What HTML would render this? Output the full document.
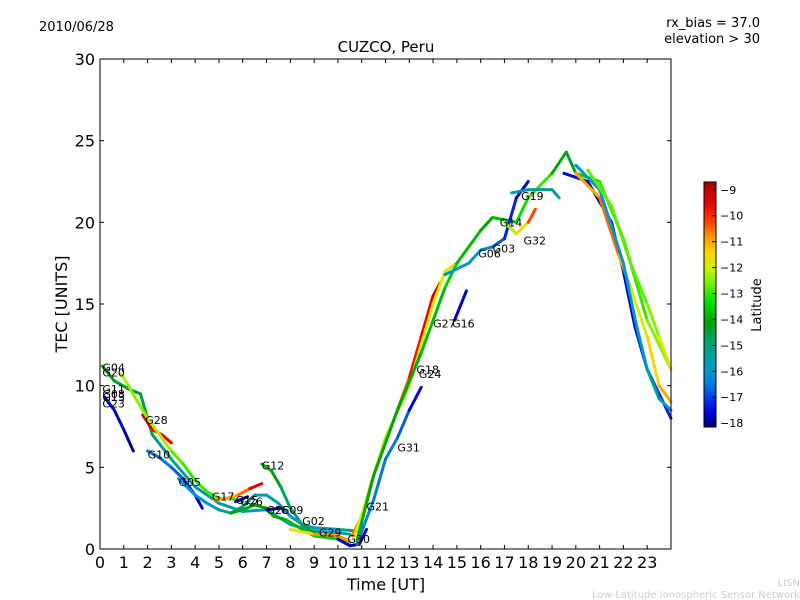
<!DOCTYPE html>
<html><head><meta charset="utf-8"><style>
body{margin:0;background:#fff}
svg{display:block;font-family:"DejaVu Sans","Liberation Sans",sans-serif}
</style></head><body>
<svg id="chart" width="800" height="600">
<rect width="800" height="600" fill="#fff"/>
<text x="39" y="31" font-size="13">2010/06/28</text>
<text x="760" y="27" font-size="13" text-anchor="end">rx_bias = 37.0</text>
<text x="760" y="43" font-size="13" text-anchor="end">elevation &gt; 30</text>
<text x="386" y="52" font-size="15" text-anchor="middle">CUZCO, Peru</text>
<text x="386" y="590" font-size="16" text-anchor="middle">Time [UT]</text>
<text transform="translate(67,304) rotate(-90)" font-size="16" text-anchor="middle">TEC [UNITS]</text>
<text x="800" y="586" font-size="10" fill="#ccc" text-anchor="end">LISN</text>
<text x="800" y="598" font-size="10" fill="#ccc" text-anchor="end">Low-Latitude Ionospheric Sensor Network</text>
<g id="marks"></g>
<g id="axes"></g>
<g id="cbar"></g>
</svg>
<script>
const xTicks=[0,1,2,3,4,5,6,7,8,9,10,11,12,13,14,15,16,17,18,19,20,21,22,23];
const yTicks=[0,5,10,15,20,25,30];
const cbTicks=[-9,-10,-11,-12,-13,-14,-15,-16,-17,-18];
const satNames=["G20","G23","G10","G28","G11","G05","G17","G08","G12","G15","G09","G29","G30","G21","G27","G31","G24","G16","G06","G32","G19","G26","G14","G03","G13"];
const satTimes=[
[0.1,0.6,1.2,1.7,2.2,3,4,5,6,7,8,9,10,10.5],
[0.2,0.6,1,1.4],
[2,2.5,3,3.5,4,4.3],
[1.8,2.2,2.6,3.0],
[0.9,1.2,1.5,2,2.5,3,3.5,4,4.5,5,5.5,6],
[3.3,4,4.5,5,5.5,6,6.5,7,7.5,8,8.5,9,10,10.8],
[4.8,5.3,5.8,6.3,6.8],
[5.5,6,6.5,7,7.3,7.8,8.5,9,10,10.5],
[6.8,7.2,7.6,8,8.5,9,9.5],
[5.7,6.2],
[7,7.6],
[8,9,10,10.5],
[10,10.5,10.9,11.2],
[10.6,11,11.5,12,12.5,13,13.5,14,14.3],
[10.7,11.2,12,13,13.5,14,14.5,15],
[10.8,11.5,12,12.5,13,13.5],
[10.8,11.5,12.5,13.5,14.5,15,16,16.5,17.5,18,19,19.6,20,21,22,23,24],
[14.9,15.4],
[14.5,15.5,16,16.5,17,17.5,18],
[17,17.5,18,18.3],
[17.3,18,19,19.3],
[19.5,20.5,21.5,22,22.5,23,23.5,24],
[20,21,21.8,22.3,23,23.5,24],
[20,21,22,22.5,23,23.5,24],
[20.5,21.5,22.3,23,23.5,24]];
const satTec=[
[11.2,10.3,9.8,9.5,7,5.5,3.8,2.8,2.3,2.4,1.5,1.1,1.0,0.9],
[9.3,8.5,7.3,6.0],
[6.0,5.6,5,4.3,3.3,2.5],
[8.2,7.3,7.0,6.5],
[10.7,10,9.2,8,7,6,5.2,4.2,3.5,3.1,3.1,2.9],
[4.3,3.3,2.8,2.4,2.2,2.6,3.3,3.3,2.8,2.0,1.5,1.3,1.2,1.1],
[3.0,3.1,3.3,3.7,4.0],
[2.2,2.4,2.7,2.5,2.0,1.8,1.2,0.8,0.6,0.4],
[5.2,4.8,3.8,2.5,1.5,1.0,0.8],
[2.9,3.2],
[2.4,2.5],
[1.2,0.9,0.8,0.5],
[0.6,0.2,0.3,1.2],
[0.8,2.0,4.5,6.5,8.5,10.5,13,15.5,16.3],
[0.8,3,6.8,10,12.5,15,17,17.5],
[0.3,3,5.5,6.8,8.5,9.9],
[0.5,4.5,8.5,12,16,17.5,19.5,20.3,20,21.5,23,24.3,23,22.5,19,14,11],
[14,15.8],
[16.8,17.5,18.3,18.5,19,21.5,22.5],
[20,19.3,20,20.8],
[21.8,22.0,22,21.5],
[23,22.5,20,17,13.5,11,9.5,8],
[23,21.5,18,16,13,10,9],
[23.5,22,17.5,14,11,9.2,8.5],
[23.2,21,17.5,15,13,11]];
const satLat=[
[-14,-14.5,-14.5,-14,-15,-15,-15.5,-15.5,-15.5,-16,-16,-16,-15.5,-15.5],
[-17.5,-17.5,-18,-18],
[-16.5,-16.5,-16.5,-17,-17.5,-18],
[-9,-9.5,-10,-9],
[-12,-12.5,-12.5,-12.5,-12,-12.5,-13,-13,-13,-13,-13,-13],
[-16,-16,-16,-16,-15,-15,-15.5,-15.5,-15.5,-16,-16,-16,-15.5,-15],
[-11,-11,-11,-10,-9],
[-14,-14,-14,-14,-14,-14,-13.5,-14,-13,-13],
[-13.5,-14,-14.5,-15,-15,-14,-14],
[-17.5,-17.5],
[-18,-18],
[-12,-11,-10.5,-11],
[-17.5,-18,-18,-17.5],
[-11,-10,-10,-11,-11,-10,-9.5,-9.5,-9],
[-12,-12,-12.5,-12,-11.5,-12,-12,-11.5],
[-16,-16.5,-16.5,-16.5,-17,-18],
[-14,-14,-14,-14,-13.5,-13.5,-14,-14,-13.5,-13,-13,-15,-14,-13,-13,-13,-12],
[-17.5,-18],
[-16,-16,-16,-16.5,-17,-17.5,-18],
[-12.5,-12,-11,-9.5],
[-16,-15.5,-15,-16],
[-17.5,-17.5,-18,-18,-17.5,-17,-17,-17.5],
[-11,-11,-10,-12,-12,-11,-11],
[-15.5,-16,-16,-16,-15.5,-15.5,-16],
[-12.5,-13,-12.5,-13,-12,-11.5]];
const labelNames=["G04","G20","G11","G08","G13","G23","G28","G10","G05","G17","G15","G26","G12","G26","G09","G02","G29","G30","G21","G31","G18","G24","G27","G16","G06","G03","G14","G19","G32"];
const labelT=[0.1,0.1,0.1,0.1,0.1,0.1,1.9,2.0,3.3,4.7,5.7,5.9,6.8,7.0,7.6,8.5,9.2,10.4,11.2,12.5,13.3,13.4,14.0,14.8,15.9,16.5,16.8,17.7,17.8];
const labelTec=[11.1,10.8,9.8,9.5,9.3,8.9,7.9,5.8,4.1,3.2,3.0,2.9,5.1,2.4,2.4,1.7,1.0,0.6,2.6,6.2,11.0,10.7,13.8,13.8,18.1,18.4,20.0,21.6,18.9];

const X0=100,X1=671,Y0=549,Y1=59;
const xS=t=>X0+t*(X1-X0)/24;
const yS=v=>Y0-v*(Y0-Y1)/30;
const CB_TOP=182,CB_BOT=427,LMAX=-8.7,LMIN=-18.15;
const cS=l=>CB_BOT-(l-LMIN)/(LMAX-LMIN)*(CB_BOT-CB_TOP);
const cmapLat=[-18.15,-17.6,-17.1,-16.5,-16.0,-15.4,-14.8,-14.1,-13.3,-12.6,-12.0,-11.4,-10.8,-10.2,-9.5,-8.7];
const cmapRGB=[[0,0,128],[0,0,220],[0,50,230],[0,120,220],[0,150,210],[0,160,160],[0,160,100],[0,160,0],[0,225,0],[120,240,0],[210,240,0],[250,210,0],[255,150,0],[255,60,0],[230,0,0],[170,0,0]];
function latColor(l){
 if(l<=cmapLat[0])return `rgb(${cmapRGB[0]})`;
 for(let k=1;k<cmapLat.length;k++){if(l<=cmapLat[k]){const f=(l-cmapLat[k-1])/(cmapLat[k]-cmapLat[k-1]);const a=cmapRGB[k-1],b=cmapRGB[k];return `rgb(${a.map((v,i)=>Math.round(v+(b[i]-v)*f)).join(',')})`;}}
 return `rgb(${cmapRGB[cmapRGB.length-1]})`;}
const NS="http://www.w3.org/2000/svg";
function mk(tag,attrs,parent){const e=document.createElementNS(NS,tag);for(const k in attrs)e.setAttribute(k,attrs[k]);parent.appendChild(e);return e;}
const marks=document.getElementById('marks');
satTimes.forEach((ts,i)=>{
 const g=mk('g',{},marks);
 
 
 for(let j=0;j<ts.length-1;j++){
  const s=mk('line',{x1:xS(ts[j]),y1:yS(satTec[i][j]),x2:xS(ts[j+1]),y2:yS(satTec[i][j+1]),stroke:latColor((satLat[i][j]+satLat[i][j+1])/2),'stroke-width':3,'stroke-linecap':'round'},g);
  
  
 }
});
labelNames.forEach((n,i)=>{
 const t=mk('text',{x:xS(labelT[i]),y:yS(labelTec[i])+4,'font-size':11},marks);
 t.textContent=n;
 
 
});
const ax=document.getElementById('axes');
const fr=mk('rect',{x:X0,y:Y1,width:X1-X0,height:Y0-Y1,fill:'none',stroke:'#000','stroke-width':1},ax);


xTicks.forEach(v=>{const x=xS(v);
 mk('line',{x1:x,y1:Y0,x2:x,y2:Y0-4,stroke:'#000'},ax);
 mk('line',{x1:x,y1:Y1,x2:x,y2:Y1+4,stroke:'#000'},ax);
 const t=mk('text',{x:x,y:Y0+19,'font-size':16,'text-anchor':'middle'},ax);t.textContent=v;
 
 
});
yTicks.forEach(v=>{const y=yS(v);
 mk('line',{x1:X0,y1:y,x2:X0+4,y2:y,stroke:'#000'},ax);
 mk('line',{x1:X1,y1:y,x2:X1-4,y2:y,stroke:'#000'},ax);
 const t=mk('text',{x:X0-5,y:y+6,'font-size':16,'text-anchor':'end'},ax);t.textContent=v;
 
 
});
const cb=document.getElementById('cbar');
const defs=mk('defs',{},cb);
const gr=mk('linearGradient',{id:'cg',x1:0,y1:1,x2:0,y2:0},defs);
cmapLat.forEach((l,k)=>mk('stop',{offset:(l-LMIN)/(LMAX-LMIN),'stop-color':`rgb(${cmapRGB[k]})`},gr));
const cr=mk('rect',{x:704,y:CB_TOP,width:12,height:CB_BOT-CB_TOP,fill:'url(#cg)',stroke:'#000'},cb);


cbTicks.forEach(v=>{const y=cS(v);
 mk('line',{x1:716,y1:y,x2:712,y2:y,stroke:'#000'},cb);
 const t=mk('text',{x:720,y:y+4,'font-size':11},cb);t.textContent='\u2212'+Math.abs(v);
 
 
});
const ct=mk('text',{transform:'translate(761,305) rotate(-90)','font-size':13,'text-anchor':'middle'},cb);
ct.textContent='Latitude';


</script>
</body></html>
